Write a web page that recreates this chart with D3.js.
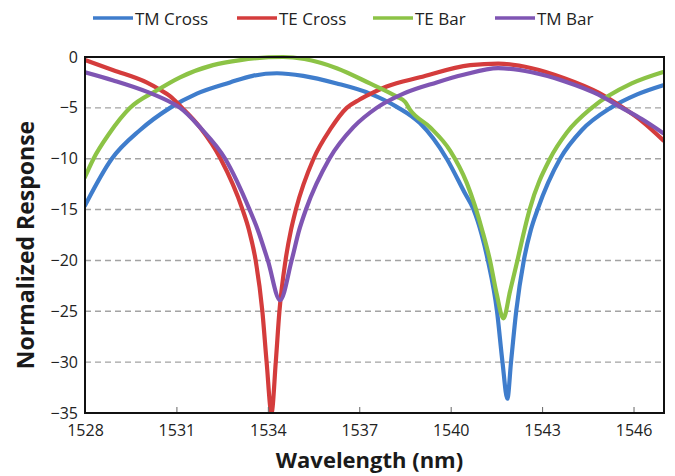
<!DOCTYPE html>
<html>
<head>
<meta charset="utf-8">
<script src="https://cdn.jsdelivr.net/npm/d3@7"></script>
<style>
  html, body { margin: 0; padding: 0; background: #fff; }
  svg { display: block; font-family: "Open Sans", "DejaVu Sans", sans-serif; }
</style>
</head>
<body>
<svg id="chart" width="675" height="476"></svg>
<script>
// ---------- data (wavelength nm, normalized response dB) ----------
const seriesNames = ["TM Cross", "TE Cross", "TE Bar", "TM Bar"];
const seriesColors = ["#3f7dcc", "#d43c3c", "#8cc346", "#7f55b3"];

const tmCross = [
  [1528.0,-14.6],[1528.88,-10.0],[1529.8,-7.2],[1530.79,-5.0],[1531.67,-3.6],[1532.76,-2.5],
  [1533.5,-1.85],[1534.3,-1.6],[1535.16,-1.85],[1536.26,-2.6],[1537.35,-3.6],[1538.23,-4.9],
  [1538.99,-6.5],[1539.87,-10.0],[1540.45,-13.3],[1540.75,-15.0],[1541.02,-17.5],[1541.22,-20.0],
  [1541.52,-25.0],[1541.7,-30.0],[1541.86,-33.6],[1541.98,-30.0],[1542.15,-25.0],[1542.4,-20.0],
  [1542.63,-17.0],[1542.85,-15.0],[1543.59,-10.0],[1544.3,-7.2],[1545.25,-5.0],[1546.1,-3.7],
  [1546.95,-2.8]
];
const teCross = [
  [1528.0,-0.3],[1528.93,-1.3],[1530.02,-2.5],[1530.45,-3.2],[1530.79,-3.85],[1531.12,-4.8],
  [1531.77,-6.9],[1532.45,-10.0],[1533.17,-15.0],[1533.38,-17.0],[1533.6,-20.0],[1533.82,-25.0],
  [1533.96,-30.0],[1534.12,-35.0],[1534.26,-30.0],[1534.38,-25.0],[1534.58,-20.0],[1534.76,-17.0],
  [1534.92,-15.0],[1535.5,-10.0],[1536.05,-7.1],[1536.59,-5.0],[1537.0,-4.2],[1537.35,-3.65],
  [1537.9,-2.9],[1538.99,-2.0],[1540.64,-0.8],[1541.56,-0.65],[1542.66,-1.1],[1543.75,-2.1],
  [1544.85,-3.5],[1545.61,-4.9],[1546.27,-6.3],[1546.98,-8.2]
];
const teBar = [
  [1528.0,-11.8],[1528.28,-10.0],[1528.78,-7.6],[1529.48,-5.0],[1530.35,-3.3],[1531.12,-2.0],
  [1532.2,-0.8],[1533.1,-0.3],[1534.5,0.0],[1535.2,-0.2],[1536.26,-1.1],[1537.35,-2.6],
  [1538.23,-3.9],[1538.5,-4.4],[1538.67,-5.2],[1539.32,-6.9],[1539.98,-9.2],[1540.53,-12.4],
  [1541.05,-17.2],[1541.29,-20.0],[1541.51,-23.3],[1541.73,-25.7],[1541.95,-23.0],[1542.19,-20.0],
  [1542.42,-17.0],[1542.59,-15.0],[1543.26,-10.0],[1543.82,-7.4],[1544.63,-5.0],[1545.94,-2.6],
  [1546.95,-1.5]
];
const tmBar = [
  [1528.0,-1.5],[1528.93,-2.3],[1530.02,-3.4],[1530.9,-4.6],[1531.12,-5.0],[1531.8,-7.0],
  [1532.6,-10.0],[1533.4,-15.0],[1533.67,-17.0],[1534.0,-20.0],[1534.4,-23.9],[1534.78,-20.0],
  [1535.03,-17.0],[1535.25,-15.0],[1536.02,-10.0],[1536.81,-6.9],[1537.57,-5.0],[1538.45,-3.6],
  [1539.54,-2.5],[1540.42,-1.75],[1541.56,-1.1],[1542.66,-1.5],[1543.75,-2.4],[1544.85,-3.7],
  [1545.56,-4.9],[1546.27,-6.1],[1546.98,-7.5]
];
const seriesData = [tmCross, teCross, teBar, tmBar];

const xTicks = [1528, 1531, 1534, 1537, 1540, 1543, 1546];
const yTicks = [0, -5, -10, -15, -20, -25, -30, -35];
const xTitle = "Wavelength (nm)";
const yTitle = "Normalized Response";

// ---------- layout ----------
const svg = d3.select("#chart");
const plot = { left: 85, top: 57, right: 664, bottom: 413 };

const x = d3.scaleLinear().domain([1528, 1547]).range([plot.left, plot.right]);
const y = d3.scaleLinear().domain([-35, 0]).range([plot.bottom, plot.top]);

svg.append("rect").attr("width", 675).attr("height", 476).attr("fill", "#fff");

// grid lines (dashed)
svg.append("g")
  .selectAll("line")
  .data(yTicks.filter(d => d !== 0 && d !== -35))
  .join("line")
  .attr("x1", plot.left).attr("x2", plot.right)
  .attr("y1", d => y(d)).attr("y2", d => y(d))
  .attr("stroke", "#a3a3a3")
  .attr("stroke-width", 1.4)
  .attr("stroke-dasharray", "6,4");

// clip
svg.append("defs").append("clipPath").attr("id", "clip")
  .append("rect")
  .attr("x", plot.left).attr("y", plot.top - 3)
  .attr("width", plot.right - plot.left).attr("height", plot.bottom - plot.top + 3);

const line = d3.line()
  .x(d => x(d[0]))
  .y(d => y(d[1]))
  .curve(d3.curveMonotoneX);

svg.append("g").attr("clip-path", "url(#clip)")
  .selectAll("path")
  .data(seriesData)
  .join("path")
  .attr("d", d => line(d))
  .attr("fill", "none")
  .attr("stroke", (d, i) => seriesColors[i])
  .attr("stroke-width", 4.2)
  .attr("stroke-linejoin", "round")
  .attr("stroke-linecap", "round");

// axes
const xAxis = d3.axisBottom(x).tickValues(xTicks).tickFormat(d3.format("d"))
  .tickSize(-6).tickSizeOuter(0).tickPadding(12);
const gx = svg.append("g").attr("transform", `translate(0,${plot.bottom})`).call(xAxis);
gx.select(".domain").remove();
gx.selectAll(".tick line").attr("stroke", "#666").attr("stroke-width", 1);
gx.selectAll(".tick text")
  .attr("font-family", "'Open Sans', sans-serif")
  .attr("font-size", 16).attr("fill", "#222");

const yAxis = d3.axisLeft(y).tickValues(yTicks).tickFormat(d3.format("d"))
  .tickSize(0).tickPadding(7);
const gy = svg.append("g").attr("transform", `translate(${plot.left},0)`).call(yAxis);
gy.select(".domain").remove();
gy.selectAll(".tick text")
  .attr("font-family", "'Open Sans', sans-serif")
  .attr("font-size", 16).attr("fill", "#222");

// frame
svg.append("rect")
  .attr("x", plot.left).attr("y", plot.top)
  .attr("width", plot.right - plot.left).attr("height", plot.bottom - plot.top)
  .attr("fill", "none").attr("stroke", "#111").attr("stroke-width", 2);

// titles
svg.append("text")
  .attr("x", (plot.left + plot.right) / 2 - 5)
  .attr("y", 468)
  .attr("text-anchor", "middle")
  .attr("font-family", "'Open Sans', sans-serif")
  .attr("font-weight", "bold")
  .attr("font-size", 22)
  .attr("fill", "#1a1a1a")
  .text(xTitle);

svg.append("text")
  .attr("transform", "translate(34,245) rotate(-90)")
  .attr("text-anchor", "middle")
  .attr("font-family", "'Open Sans', sans-serif")
  .attr("font-weight", "bold")
  .attr("font-size", 23)
  .attr("fill", "#1a1a1a")
  .text(yTitle);

// legend
const legendX = [93, 237, 373, 495];
const lg = svg.append("g");
seriesNames.forEach((name, i) => {
  const g = lg.append("g").attr("transform", `translate(${legendX[i]},18)`);
  g.append("line").attr("x1", 0).attr("x2", 40).attr("y1", 0).attr("y2", 0)
    .attr("stroke", seriesColors[i]).attr("stroke-width", 3.5);
  g.append("text").attr("x", 42).attr("y", 7)
    .attr("font-family", "'Open Sans', sans-serif")
    .attr("font-size", 17).attr("fill", "#222")
    .text(name);
});
</script>
</body>
</html>
